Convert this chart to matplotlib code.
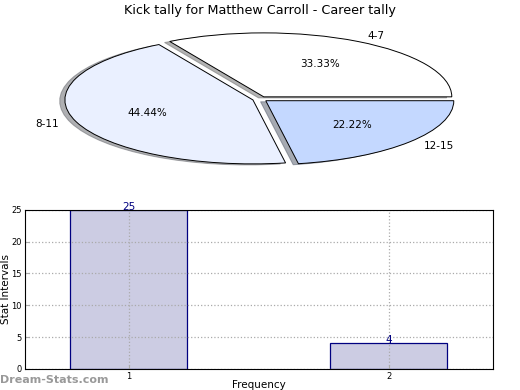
import matplotlib
matplotlib.use("Agg")
import matplotlib.pyplot as plt

# pie data
pie_labels = ["4-7", "8-11", "12-15"]
pie_values = [3, 4, 2]
pie_colors = ["#ffffff", "#eaf0ff", "#c4d8ff"]

# bar data
bar_x = [1, 2]
bar_values = [25, 4]

title = "Kick tally for Matthew Carroll - Career tally"

fig = plt.figure(figsize=(5.2, 3.9), dpi=100)

# pie on top, squashed into an ellipse
ax1 = fig.add_axes([0.048, 0.541, 0.904, 0.41])
wedges, texts, autotexts = ax1.pie(
    pie_values, labels=pie_labels, colors=pie_colors,
    explode=[0.04, 0.04, 0.04], autopct="%.2f%%",
    shadow={"ox": -0.02, "oy": -0.012, "shade": 0.6},
    startangle=0, counterclock=True,
    wedgeprops={"edgecolor": "black", "linewidth": 0.7},
    textprops={"fontsize": 7.5},
)
ax1.set_aspect("auto")
ax1.set_xlim(-1.25, 1.25)
ax1.set_ylim(-1.25, 1.25)
fig.text(0.5, 0.972, title, ha="center", va="center", fontsize=9.2)

# bar chart below
ax2 = fig.add_axes([0.048, 0.054, 0.900, 0.408])
bars = ax2.bar(bar_x, bar_values, width=0.45, color="#ccccE3",
               edgecolor="#000080", linewidth=0.9, zorder=1)
for xv, v in zip(bar_x, bar_values):
    ax2.text(xv, v - 0.3, str(v), ha="center", va="bottom", color="#000080",
             fontsize=7.5)
ax2.set_xlim(0.6, 2.4)
ax2.set_ylim(0, 25)
ax2.set_xticks(bar_x)
ax2.set_yticks([0, 5, 10, 15, 20, 25])
ax2.tick_params(labelsize=6, direction="in", length=3, color="#aaaaaa", pad=2.5)
ax2.grid(True, linestyle=":", color="#aaaaaa", linewidth=0.9, zorder=3)
ax2.set_axisbelow(False)
for sp in ax2.spines.values():
    sp.set_zorder(4)
ax2.set_ylabel("Stat Intervals", fontsize=7.5)
ax2.yaxis.set_label_coords(-0.03, 0.5)
ax2.set_xlabel("Frequency", fontsize=7.5)
ax2.xaxis.set_label_coords(0.5, -0.072)

fig.text(0.0, 0.025, "Dream-Stats.com", color="#999999", fontsize=8,
         fontweight="bold", ha="left", va="center")

fig.savefig("out.png", dpi=100)
